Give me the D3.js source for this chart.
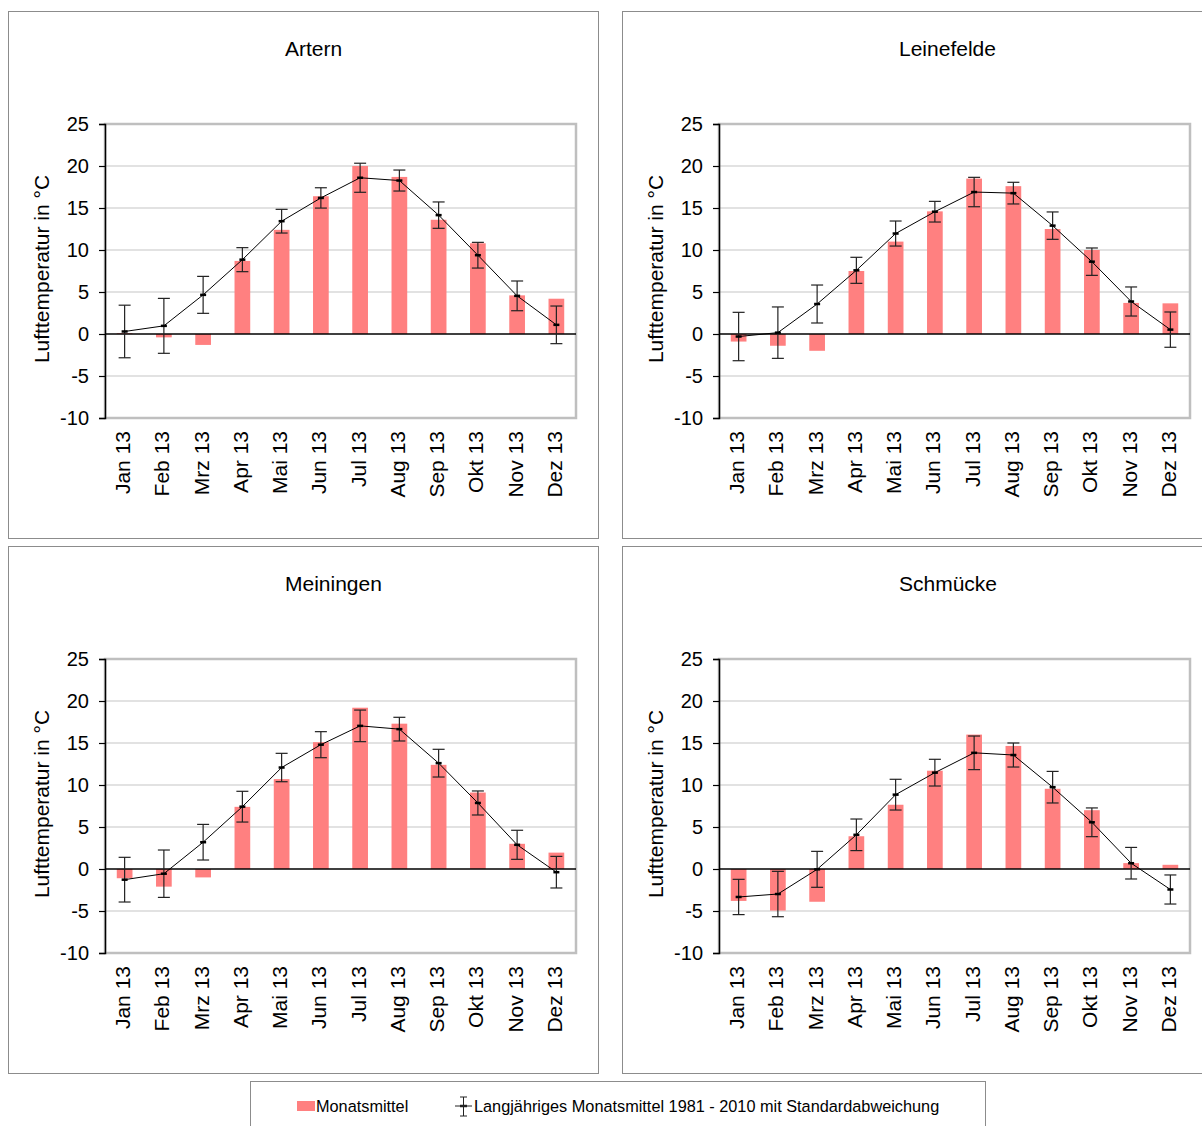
<!DOCTYPE html>
<html>
<head>
<meta charset="utf-8">
<script src="https://cdn.jsdelivr.net/npm/d3@7"></script>
<style>
  body { margin: 0; background: #fff; }
  text { font-family: Arial, "Liberation Sans", sans-serif; fill: #000; }
</style>
</head>
<body>
<svg id="chart" width="1202" height="1126"></svg>
<script>
const months = ['Jan 13', 'Feb 13', 'Mrz 13', 'Apr 13', 'Mai 13', 'Jun 13', 'Jul 13', 'Aug 13', 'Sep 13', 'Okt 13', 'Nov 13', 'Dez 13'];
const yTicks = [25, 20, 15, 10, 5, 0, -5, -10];
const stations = ['Artern', 'Leinefelde', 'Meiningen', 'Schmücke'];

// Monatsmittel 2013
const arternMonat = [0.1, -0.4, -1.3, 8.7, 12.4, 16.4, 20.0, 18.7, 13.6, 10.8, 4.6, 4.2];
const leinefeldeMonat = [-0.9, -1.4, -2.0, 7.5, 11.0, 14.6, 18.5, 17.6, 12.5, 10.0, 3.7, 3.65];
const meiningenMonat = [-1.1, -2.1, -1.0, 7.4, 10.7, 15.1, 19.2, 17.3, 12.4, 9.1, 3.0, 1.95];
const schmueckeMonat = [-3.8, -4.95, -3.9, 3.9, 7.65, 11.7, 16.0, 14.65, 9.55, 7.0, 0.7, 0.5];

// Langjähriges Monatsmittel 1981 - 2010
const arternMittel = [0.3, 0.97, 4.66, 8.85, 13.43, 16.2, 18.6, 18.27, 14.15, 9.38, 4.54, 1.09];
const leinefeldeMittel = [-0.3, 0.16, 3.57, 7.58, 11.96, 14.56, 16.9, 16.77, 12.9, 8.61, 3.87, 0.52];
const meiningenMittel = [-1.27, -0.56, 3.19, 7.42, 12.08, 14.8, 17.04, 16.65, 12.6, 7.86, 2.88, -0.38];
const schmueckeMittel = [-3.33, -2.98, -0.04, 4.07, 8.85, 11.47, 13.83, 13.57, 9.74, 5.56, 0.69, -2.44];

// Standardabweichung
const arternSd = [3.13, 3.27, 2.2, 1.43, 1.41, 1.21, 1.73, 1.25, 1.57, 1.53, 1.77, 2.24];
const leinefeldeSd = [2.88, 3.06, 2.26, 1.55, 1.49, 1.23, 1.75, 1.29, 1.63, 1.63, 1.73, 2.1];
const meiningenSd = [2.66, 2.82, 2.12, 1.83, 1.69, 1.55, 1.88, 1.41, 1.65, 1.43, 1.73, 1.88];
const schmueckeSd = [2.1, 2.7, 2.14, 1.88, 1.83, 1.59, 2.0, 1.43, 1.88, 1.71, 1.88, 1.73];

const PANEL_W = 590;
const PANEL_H = 527;
const PANEL_X = [8, 622];
const PANEL_Y = [11, 546];
const PLOT_LEFT = 97;
const PLOT_TOP = 113;
const PLOT_W = 471;
const PLOT_H = 294;
const BAR_COLOR = '#ff8080';
const GRID_COLOR = '#d9d9d9';
const BORDER_COLOR = '#bfbfbf';

const panels = [
  { name: stations[0], monat: arternMonat, mittel: arternMittel, sd: arternSd },
  { name: stations[1], monat: leinefeldeMonat, mittel: leinefeldeMittel, sd: leinefeldeSd },
  { name: stations[2], monat: meiningenMonat, mittel: meiningenMittel, sd: meiningenSd },
  { name: stations[3], monat: schmueckeMonat, mittel: schmueckeMittel, sd: schmueckeSd },
];

const svg = d3.select('#chart');

const x = d3.scaleBand().domain(months).range([0, PLOT_W]).padding(0);
const y = d3.scaleLinear().domain([-10, 25]).range([PLOT_H, 0]);
const barW = x.bandwidth() * 0.4;
const cx = (i) => x(months[i]) + x.bandwidth() / 2;

panels.forEach((p, k) => {
  const px = PANEL_X[k % 2];
  const py = PANEL_Y[Math.floor(k / 2)];
  const panel = svg.append('g').attr('transform', `translate(${px},${py})`);

  panel.append('rect')
    .attr('x', 0.5).attr('y', 0.5)
    .attr('width', PANEL_W).attr('height', PANEL_H)
    .attr('fill', '#fff')
    .attr('stroke', '#8c8c8c');

  panel.append('text')
    .attr('x', 277).attr('y', 45)
    .style('font-size', '21px')
    .text(p.name);

  // y axis title
  panel.append('text')
    .attr('transform', `translate(35,${PLOT_TOP + PLOT_H / 2 - 2}) rotate(-90)`)
    .attr('text-anchor', 'middle')
    .attr('dominant-baseline', 'middle')
    .style('font-size', '21px')
    .text('Lufttemperatur in °C');

  const plot = panel.append('g').attr('transform', `translate(${PLOT_LEFT},${PLOT_TOP})`);

  // gridlines
  plot.append('g').selectAll('line')
    .data(yTicks.filter((t) => t !== 0 && t !== 25 && t !== -10))
    .join('line')
    .attr('x1', 0).attr('x2', PLOT_W)
    .attr('y1', (d) => y(d)).attr('y2', (d) => y(d))
    .attr('stroke', GRID_COLOR)
    .attr('stroke-width', 1.5);

  plot.append('rect')
    .attr('x', 0).attr('y', 0)
    .attr('width', PLOT_W).attr('height', PLOT_H)
    .attr('fill', 'none')
    .attr('stroke', BORDER_COLOR)
    .attr('stroke-width', 2.5);

  // bars
  plot.append('g').selectAll('rect')
    .data(p.monat)
    .join('rect')
    .attr('x', (d, i) => cx(i) - barW / 2)
    .attr('width', barW)
    .attr('y', (d) => y(Math.max(0, d)))
    .attr('height', (d) => Math.abs(y(d) - y(0)))
    .attr('fill', BAR_COLOR);

  // zero line
  plot.append('line')
    .attr('x1', 0).attr('x2', PLOT_W)
    .attr('y1', y(0)).attr('y2', y(0))
    .attr('stroke', '#000')
    .attr('stroke-width', 1.5);

  // left axis
  const yAxis = d3.axisLeft(y).tickValues(yTicks).tickSize(6).tickPadding(10).tickFormat((d) => String(d));
  const ya = plot.append('g').call(yAxis);
  ya.select('.domain').attr('stroke', '#000').attr('stroke-width', 1.5);
  ya.selectAll('.tick line').attr('stroke', '#000').attr('stroke-width', 1.2);
  ya.selectAll('.tick text')
    .style('font-size', '20px')
    .style('font-family', 'Arial, "Liberation Sans", sans-serif')
    .attr('fill', '#000');

  // month labels
  plot.append('g').selectAll('text')
    .data(months)
    .join('text')
    .attr('transform', (d) => `translate(${x(d) + x.bandwidth() / 2},${PLOT_H + 13}) rotate(-90)`)
    .attr('text-anchor', 'end')
    .attr('dominant-baseline', 'middle')
    .style('font-size', '21px')
    .text((d) => d);

  // error bars
  const err = plot.append('g').attr('stroke', '#222').attr('stroke-width', 1.2);
  p.mittel.forEach((m, i) => {
    const top = y(m + p.sd[i]);
    const bot = y(m - p.sd[i]);
    err.append('line').attr('x1', cx(i)).attr('x2', cx(i)).attr('y1', top).attr('y2', bot);
    err.append('line').attr('x1', cx(i) - 6).attr('x2', cx(i) + 6).attr('y1', top).attr('y2', top);
    err.append('line').attr('x1', cx(i) - 6).attr('x2', cx(i) + 6).attr('y1', bot).attr('y2', bot);
  });

  // long-term mean line
  const line = d3.line().x((d, i) => cx(i)).y((d) => y(d));
  plot.append('path')
    .datum(p.mittel)
    .attr('d', line)
    .attr('fill', 'none')
    .attr('stroke', '#000')
    .attr('stroke-width', 1);

  plot.append('g').selectAll('line')
    .data(p.mittel)
    .join('line')
    .attr('x1', (d, i) => cx(i) - 3).attr('x2', (d, i) => cx(i) + 3)
    .attr('y1', (d) => y(d)).attr('y2', (d) => y(d))
    .attr('stroke', '#000')
    .attr('stroke-width', 2.5);
});

// legend
const legend = svg.append('g').attr('transform', 'translate(250,1081)');
legend.append('rect')
  .attr('x', 0.5).attr('y', 0.5)
  .attr('width', 735).attr('height', 60)
  .attr('fill', '#fff')
  .attr('stroke', '#8c8c8c');

legend.append('rect')
  .attr('x', 47).attr('y', 20)
  .attr('width', 18).attr('height', 10)
  .attr('fill', BAR_COLOR);
legend.append('text')
  .attr('x', 66).attr('y', 31)
  .style('font-size', '16.3px')
  .text('Monatsmittel');

const lg = legend.append('g').attr('stroke', '#222').attr('stroke-width', 1);
lg.append('line').attr('x1', 205).attr('x2', 222).attr('y1', 25).attr('y2', 25);
lg.append('line').attr('x1', 213.5).attr('x2', 213.5).attr('y1', 16).attr('y2', 35);
lg.append('line').attr('x1', 210).attr('x2', 217).attr('y1', 16).attr('y2', 16);
lg.append('line').attr('x1', 210).attr('x2', 217).attr('y1', 35).attr('y2', 35);
lg.append('line').attr('x1', 210).attr('x2', 217).attr('y1', 25).attr('y2', 25).attr('stroke-width', 2.5);
legend.append('text')
  .attr('x', 224).attr('y', 31)
  .style('font-size', '16.3px')
  .text('Langjähriges Monatsmittel 1981 - 2010 mit Standardabweichung');
</script>
</body>
</html>
